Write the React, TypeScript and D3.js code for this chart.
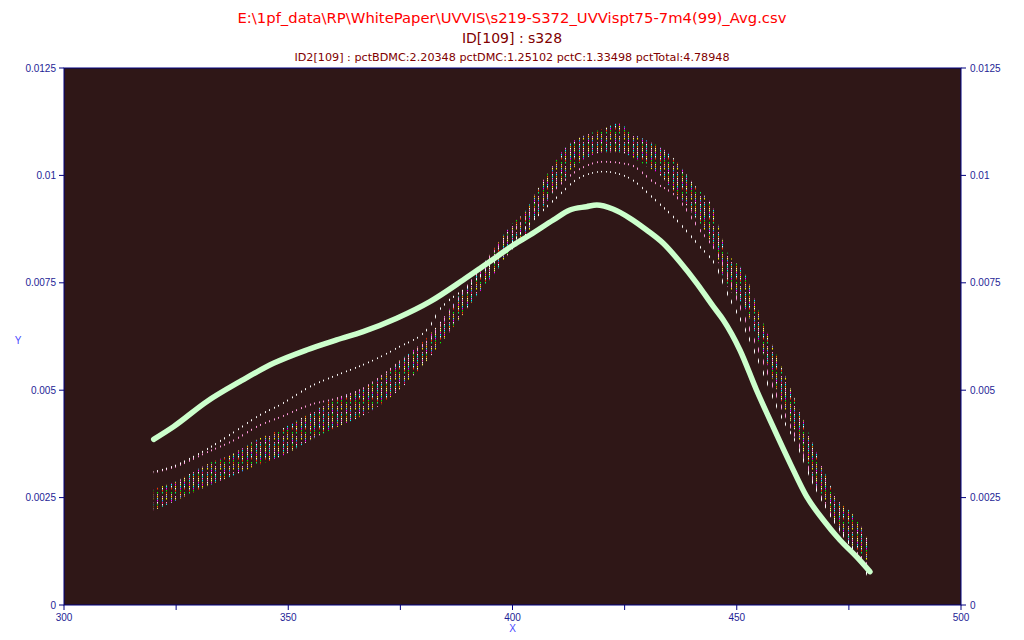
import React from 'react';
import * as d3 from 'd3';

// ---------- text ----------
const titleMain = 'E:\\1pf_data\\RP\\WhitePaper\\UVVIS\\s219-S372_UVVispt75-7m4(99)_Avg.csv';
const titleSub = 'ID[109] : s328';
const titleInfo = 'ID2[109] : pctBDMC:2.20348 pctDMC:1.25102 pctC:1.33498 pctTotal:4.78948';
const xAxisTitle = 'X';
const yAxisTitle = 'Y';

// ---------- ticks ----------
const xTicks = [300, 325, 350, 375, 400, 425, 450, 475, 500];
const xLabelTicks = [300, 350, 400, 450, 500];
const yTicks = [0, 0.0025, 0.005, 0.0075, 0.01, 0.0125];
const yTickLabels = ['0', '0.0025', '0.005', '0.0075', '0.01', '0.0125'];

// ---------- wavelength sampling of the spectra (nm) ----------
const waveStart = 320;
const waveEnd = 480;
const waveStep = 1;

// ---------- average spectrum (thick green) ----------
const avgX = [320, 324.4, 331.8, 339.2, 346.7, 354.1, 360.8, 366.7, 374.2, 381.6, 389.0, 392.8, 396.5, 400.2, 403.9,
  409.1, 412.8, 416.5, 418.8, 422.5, 426.2, 429.9, 433.6, 437.3, 441.1, 444.8, 447.0, 450.7, 454.4, 458.1, 461.9,
  465.6, 469.3, 473.0, 476.7, 479.7];
const avgY = [0.003857, 0.00415, 0.004732, 0.005198, 0.005626, 0.005936, 0.006169, 0.006362, 0.006674, 0.00706,
  0.007565, 0.007838, 0.008108, 0.00838, 0.008613, 0.008962, 0.009195, 0.009272, 0.009311, 0.009211, 0.009001,
  0.008729, 0.00842, 0.007991, 0.007488, 0.006944, 0.006634, 0.005936, 0.005005, 0.00415, 0.003298, 0.002521,
  0.001979, 0.001513, 0.001124, 0.000775];

// ---------- dense band of individual spectra (envelope) ----------
const bandX = [320, 324.9, 331.8, 338, 343, 348.9, 354.8, 360.8, 366.7, 374.2, 380.9, 384.8, 388.8, 391.8, 395.7,
  399.8, 402.9, 405.8, 408.7, 411.7, 414.7, 417.7, 420.7, 423.6, 426.6, 429.6, 432.5, 435.5, 438.5, 441.4, 444.4,
  447.6, 451.7, 455.6, 459.6, 463.6, 467.5, 472.6, 475.6, 477.5, 479.5];
const bandLow = [0.00221, 0.00244, 0.00277, 0.00303, 0.00326, 0.00349, 0.00384, 0.00415, 0.00442, 0.00497, 0.0057,
  0.00621, 0.00675, 0.00718, 0.00768, 0.00826, 0.00857, 0.0091, 0.00955, 0.00995, 0.01028, 0.01048, 0.01055,
  0.01055, 0.01044, 0.01024, 0.01005, 0.0097, 0.00935, 0.00892, 0.00842, 0.00749, 0.00694, 0.00594, 0.00485,
  0.00392, 0.00283, 0.00175, 0.00136, 0.00116, 0.00097];
const bandHigh = [0.00269, 0.00287, 0.00326, 0.00353, 0.00384, 0.00411, 0.00446, 0.00481, 0.00504, 0.00563,
  0.00621, 0.00671, 0.00729, 0.00768, 0.00826, 0.00885, 0.00916, 0.0097, 0.01017, 0.01063, 0.01086, 0.01098,
  0.0111, 0.01121, 0.01098, 0.01082, 0.01067, 0.01044, 0.01005, 0.00966, 0.00931, 0.00826, 0.00772, 0.00663,
  0.00563, 0.00462, 0.00361, 0.00244, 0.00213, 0.00186, 0.00144];

// ---------- sparse outlier spectra ----------
const whiteX = [320, 324.9, 331.8, 338, 343, 348.9, 354.8, 360.8, 366.7, 374.2, 381.6, 383.7, 385.7, 390, 395, 400,
  405, 410, 414.7, 420.3, 426.2, 431.4, 436.6, 441.8, 445.5, 447.6, 451.7, 455.6, 459.6, 463.6, 466.6, 470.6,
  474.6, 476.6, 479.5];
const whiteY = [0.0031, 0.00325, 0.00362, 0.00403, 0.00438, 0.0047, 0.00508, 0.00535, 0.00559, 0.00598, 0.00649,
  0.00687, 0.00708, 0.0074, 0.0079, 0.00845, 0.009, 0.0095, 0.00993, 0.01009, 0.00993, 0.00947, 0.00896, 0.00834,
  0.00787, 0.00733, 0.00646, 0.00549, 0.00446, 0.0037, 0.00293, 0.00215, 0.00151, 0.0012, 0.00062];
const pinkX = [320, 324.9, 331.8, 338, 343, 348.9, 354.8, 360.8, 366.7, 374.2, 381.6, 388.8, 395.7, 402.9, 408.7,
  414.7, 420.3, 426.2, 431.4, 436.6, 441.8, 445.5, 451.7, 455.6, 459.6, 463.6, 467.5, 472.6, 479.5];
const pinkY = [0.00308, 0.00322, 0.00355, 0.00384, 0.00415, 0.0044, 0.00466, 0.00481, 0.00504, 0.0056, 0.0062,
  0.00725, 0.0082, 0.009, 0.0096, 0.01013, 0.01032, 0.01025, 0.00985, 0.0095, 0.00873, 0.00822, 0.0067, 0.00575,
  0.0047, 0.0038, 0.0028, 0.0018, 0.0009];

// ---------- styling (dot colours of the spectra columns) ----------
const dotColumns = [
  ['#ff66cc', '#ffffff', '#ffff66', '#00ffff', '#ff00ff', '#00ee00', '#ff3300', '#ffcc66', '#9999ff', '#ffff00', 'none', '#ff88cc', '#00ffff', '#ff9900', '#ffffff'],
  ['#ffff66', '#ff00ff', '#00ffff', '#ffffff', '#ff3300', 'none', '#00ff00', '#ff99cc', '#ffcc00', '#66ccff', '#ff00ff', '#ffffff', '#00cc00', '#ff6600', '#ffff99'],
  ['#00ffff', '#ff9933', '#ff00ff', '#ffff00', '#ffffff', '#ff3300', '#00ff66', 'none', '#ff88dd', '#ffff66', '#3399ff', '#ff0066', '#ffffff', '#00ffcc', '#ff66ff'],
];

export default function App() {
  const W = 1024;
  const H = 640;
  const L = 64, R = 961, T = 68, B = 605;
  const x = d3.scaleLinear().domain([300, 500]).range([L, R]);
  const y = d3.scaleLinear().domain([0, 0.0125]).range([B, T]);
  const segH = 2;
  const waves = d3.range(waveStart, waveEnd + waveStep / 2, waveStep);
  const colX = (w: number) => Math.round(x(w)) - 1;

  const band = bandX.map((v, i) => ({ x: v, lo: bandLow[i], hi: bandHigh[i] }));
  const areaGen = d3.area<{ x: number; lo: number; hi: number }>()
    .x((d) => x(d.x)).y0((d) => y(d.lo) + 0.5).y1((d) => y(d.hi) - 0.5).curve(d3.curveMonotoneX);
  const lineGen = d3.line<[number, number]>().x((d) => x(d[0])).y((d) => y(d[1])).curve(d3.curveMonotoneX);

  const avgPath = lineGen(avgX.map((v, i) => [v, avgY[i]]) as [number, number][]) || '';
  const whitePath = lineGen(whiteX.map((v, i) => [v, whiteY[i]]) as [number, number][]) || '';
  const pinkPath = lineGen(pinkX.map((v, i) => [v, pinkY[i]]) as [number, number][]) || '';

  const axisColor = '#000080';
  const labelColor = '#1e1e96';
  const font = "'DejaVu Sans', 'Liberation Sans', sans-serif";
  const tickFont = "'Liberation Sans', Arial, sans-serif";

  return (
    <svg width={W} height={H} style={{ position: 'absolute', left: 0, top: 0, background: '#ffffff' }}>
      <defs>
        {dotColumns.map((col, c) => (
          <pattern key={'p' + c} id={'dots' + c} patternUnits="userSpaceOnUse" x={0} y={0}
            width={1} height={segH * col.length}>
            {col.map((clr, k) => (
              <rect key={k} x={0} y={k * segH} width={1} height={segH - 0.5} fill={clr} />
            ))}
          </pattern>
        ))}
        <clipPath id="bandclip">
          <path d={areaGen(band) || ''} />
        </clipPath>
        <mask id="colmask" maskUnits="userSpaceOnUse" x={L} y={T} width={R - L} height={B - T}>
          {waves.map((w) => (
            <rect key={w} x={colX(w)} y={T} width={1} height={B - T} fill="#ffffff" shapeRendering="crispEdges" />
          ))}
        </mask>
        <clipPath id="plotclip">
          <rect x={L} y={T} width={R - L} height={B - T} />
        </clipPath>
      </defs>

      {/* titles */}
      <text x={512} y={23} textAnchor="middle" fontFamily={font} fontSize={14.8} fill="#ff0000">{titleMain}</text>
      <text x={512} y={43} textAnchor="middle" fontFamily={font} fontSize={14} fill="#800000">{titleSub}</text>
      <text x={512} y={61} textAnchor="middle" fontFamily={font} fontSize={11.2} fill="#800000">{titleInfo}</text>

      {/* plot background */}
      <rect x={L} y={T} width={R - L} height={B - T} fill="#2f1717" />

      <g clipPath="url(#plotclip)">
        {/* dense band of spectra, one dotted column per wavelength */}
        <g clipPath="url(#bandclip)">
          {waves.map((w, i) => (
            <rect key={w} x={colX(w)} y={T} width={1} height={B - T} fill={`url(#dots${i % dotColumns.length})`}
              shapeRendering="crispEdges" />
          ))}
        </g>
        {/* sparse outliers */}
        <g mask="url(#colmask)">
          <path d={pinkPath} fill="none" stroke="#ff99dd" strokeWidth={1.8} />
          <path d={whitePath} fill="none" stroke="#ffffff" strokeWidth={1.6} />
        </g>
        {/* average */}
        <path d={avgPath} fill="none" stroke="#ccffcc" strokeWidth={5.5} strokeLinejoin="round" strokeLinecap="round" />
      </g>

      {/* frame */}
      <rect x={L} y={T} width={R - L} height={B - T} fill="none" stroke={axisColor} strokeWidth={1} />

      {/* x axis */}
      {xTicks.map((t) => (
        <line key={'xt' + t} x1={x(t)} x2={x(t)} y1={B} y2={B + 5} stroke={axisColor} />
      ))}
      {xLabelTicks.map((t) => (
        <text key={'xl' + t} x={x(t)} y={B + 16} textAnchor="middle" fontFamily={tickFont} fontSize={10} fill={labelColor}>{t}</text>
      ))}
      <text x={x(400)} y={632} textAnchor="middle" fontFamily={tickFont} fontSize={10} fill="#4a4aff">{xAxisTitle}</text>

      {/* left y axis */}
      {yTicks.map((t, i) => (
        <g key={'yl' + t}>
          <line x1={L - 5} x2={L} y1={y(t)} y2={y(t)} stroke={axisColor} />
          <text x={L - 8} y={y(t) + 3.5} textAnchor="end" fontFamily={tickFont} fontSize={10} fill={labelColor}>{yTickLabels[i]}</text>
        </g>
      ))}
      <text x={18} y={344} textAnchor="middle" fontFamily={tickFont} fontSize={10} fill="#4a4aff">{yAxisTitle}</text>

      {/* right y axis */}
      {yTicks.map((t, i) => (
        <g key={'yr' + t}>
          <line x1={R} x2={R + 5} y1={y(t)} y2={y(t)} stroke={axisColor} />
          <text x={R + 9} y={y(t) + 3.5} textAnchor="start" fontFamily={tickFont} fontSize={10} fill={labelColor}>{yTickLabels[i]}</text>
        </g>
      ))}
    </svg>
  );
}
